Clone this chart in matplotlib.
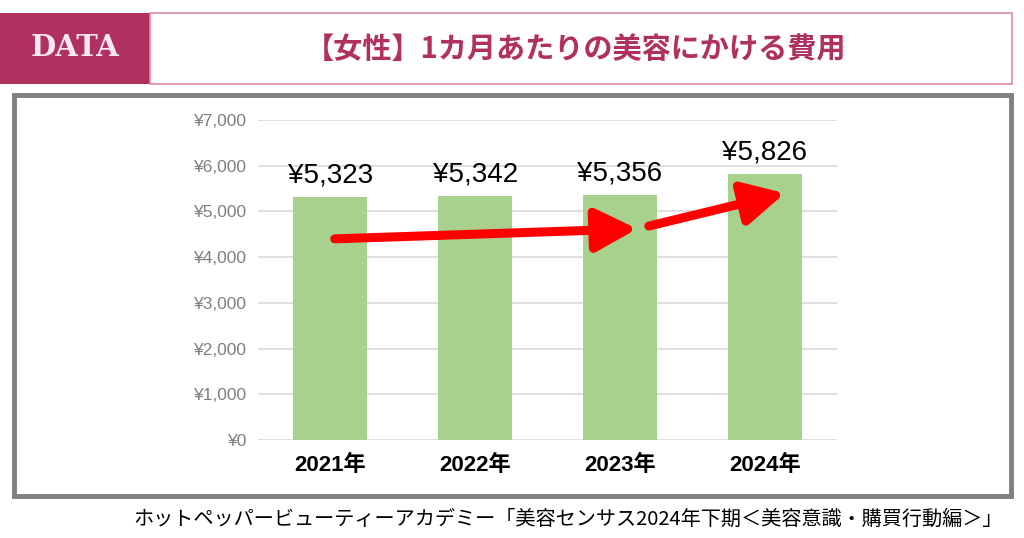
import matplotlib
matplotlib.use("Agg")
import matplotlib.pyplot as plt
from matplotlib.patches import Rectangle

plt.rcParams['font.family'] = ['Liberation Sans', 'Noto Sans CJK JP', 'DejaVu Sans']

years = ["2021年", "2022年", "2023年", "2024年"]
costs = [5323, 5342, 5356, 5826]
yticks = [0, 1000, 2000, 3000, 4000, 5000, 6000, 7000]
title = "【女性】1カ月あたりの美容にかける費用"
source = "ホットペッパービューティーアカデミー「美容センサス2024年下期＜美容意識・購買行動編＞」"

W, H = 1024, 538
fig = plt.figure(figsize=(W / 100, H / 100), dpi=100)

def px(x0, y0, x1, y1):
    # pixel box -> figure fraction (x, y, w, h)
    return x0 / W, 1 - y1 / H, (x1 - x0) / W, (y1 - y0) / H

magenta = "#B03060"
fig.patches.append(Rectangle(px(0, 13, 150, 84)[:2], *px(0, 13, 150, 84)[2:],
                             transform=fig.transFigure, facecolor=magenta, edgecolor="none"))
fig.patches.append(Rectangle(px(150, 13, 1012, 84)[:2], *px(150, 13, 1012, 84)[2:],
                             transform=fig.transFigure, facecolor="white", edgecolor="#D88CA8", lw=1.2))
fig.patches.append(Rectangle(px(14, 95, 1011, 496)[:2], *px(14, 95, 1011, 496)[2:],
                             transform=fig.transFigure, facecolor="none", edgecolor="#808080", lw=3.5))

fig.text(75 / W, 1 - 48 / H, "DATA", color="#F6E8EE", fontsize=21, fontweight="bold",
         family="DejaVu Serif", ha="center", va="center")
fig.text(576 / W, 1 - 49 / H, title, color=magenta, fontsize=21, fontweight="bold",
         family=["Noto Sans CJK JP"], ha="center", va="center")
fig.text(1003 / W, 1 - 519 / H, source, color="black", fontsize=14.5,
         family=["Noto Sans CJK JP"], ha="right", va="center")

ax = fig.add_axes([258 / W, 1 - 440 / H, (837 - 258) / W, (440 - 120) / H])
x = range(len(years))
ax.bar(x, costs, width=0.51, color="#A9D18E", zorder=2)
ax.set_xlim(-0.5, len(years) - 0.5)
ax.set_ylim(0, 7000)
ax.set_yticks(yticks)
ax.set_yticklabels([f"¥{v:,}" for v in yticks], color="#7F7F7F", fontsize=12.5)
ax.set_xticks(list(x))
ax.set_xticklabels(years, fontsize=16, fontweight="bold", family=["Liberation Sans", "Noto Sans CJK JP"])
ax.tick_params(length=0, pad=8)
ax.tick_params(axis="x", pad=11)
ax.grid(axis="y", color="#D9D9D9", lw=1.2, zorder=0)
for s in ax.spines.values():
    s.set_visible(False)

for i, v in enumerate(costs):
    ax.annotate(f"¥{v:,}", (i, v), xytext=(0, 6), textcoords="offset points",
                ha="center", va="bottom", fontsize=20)

arrow = dict(arrowstyle="-|>,head_length=2.5,head_width=1.3", color="red", lw=6.5,
             shrinkA=0, shrinkB=0)
ax.annotate("", xy=(2.12, 4620), xytext=(0.03, 4400), arrowprops=arrow, zorder=5)
ax.annotate("", xy=(3.14, 5400), xytext=(2.2, 4680), arrowprops=arrow, zorder=5)

fig.savefig("out.png", dpi=100)
